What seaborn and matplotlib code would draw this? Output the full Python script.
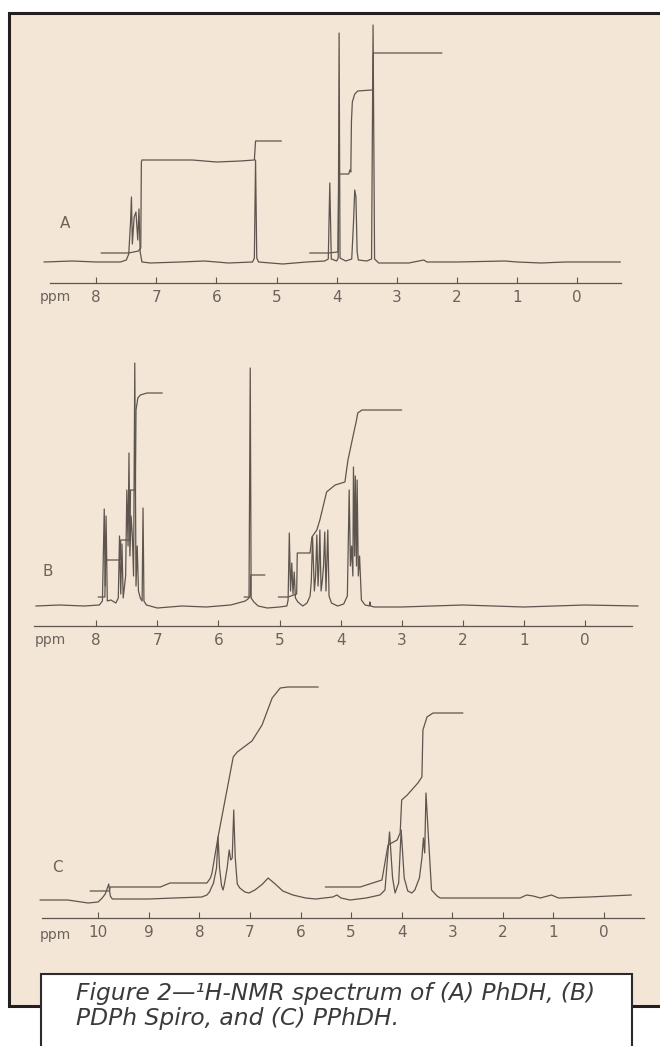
import pandas as pd
import seaborn as sns
import matplotlib.pyplot as plt
from matplotlib.patches import Rectangle

W, H = 660, 1046
BEIGE = "#f3e6d7"
INK = "#5e554e"
LABEL = "#6b635b"

# --- spectrum A (PhDH): trace vertices, ppm / relative intensity ---
a_ppm = [8.87, 8.40, 8.00, 7.60, 7.50, 7.46, 7.43, 7.415, 7.40, 7.37, 7.34, 7.31, 7.29, 7.27, 7.24,
         7.10, 6.60, 6.20, 5.80, 5.40, 5.37, 5.35, 5.33, 5.30, 4.90, 4.50, 4.20, 4.14, 4.115, 4.09,
         4.00, 3.975, 3.96, 3.945, 3.85, 3.75, 3.72, 3.70, 3.68, 3.66, 3.64, 3.50, 3.42, 3.395, 3.37,
         3.30, 2.80, 2.55, 2.50, 2.00, 1.20, 1.00, 0.60, 0.20, -0.72]
a_int = [0, 1, 0, 0, 2, 8, 40, 65, 18, 45, 50, 22, 53, 10, 0,
         -1, 0, 1, -1, 0, 4, 102, 4, 0, -2, 0, 1, 3, 79, 3,
         1, 4, 229, 4, 1, 3, 40, 72, 65, 10, 2, 1, 3, 237, 3,
         -1, -1, 2, 0, 0, 1, 0, -1, 0, 0]
a_integ1_ppm = [7.92, 7.46, 7.30, 7.26, 7.25, 7.24, 6.40, 6.00, 5.60, 5.37, 5.35, 4.92]
a_integ1_val = [9, 9, 11, 14, 100, 102, 102, 100, 101, 102, 121, 121]
a_integ2_ppm = [4.45, 4.14, 3.98, 3.965, 3.80, 3.78, 3.765, 3.755, 3.74, 3.70, 3.65, 3.42, 3.40, 3.39, 2.25]
a_integ2_val = [9, 9, 10, 88, 88, 92, 90, 140, 160, 168, 171, 172, 172, 209, 209]

# --- spectrum B (PDPh Spiro) ---
b_ppm = [8.99, 8.60, 8.20, 7.95, 7.90, 7.87, 7.855, 7.84, 7.82, 7.76, 7.68, 7.64, 7.62, 7.60, 7.58,
         7.56, 7.52, 7.50, 7.48, 7.465, 7.45, 7.43, 7.41, 7.39, 7.37, 7.35, 7.33, 7.31, 7.28, 7.25,
         7.235, 7.22, 7.18, 7.00, 6.60, 6.20, 5.80, 5.56, 5.50, 5.48, 5.465, 5.42, 5.35, 5.20, 5.00,
         4.88, 4.86, 4.84, 4.82, 4.80, 4.78, 4.76, 4.74, 4.70, 4.62, 4.55, 4.50, 4.48, 4.46, 4.43,
         4.41, 4.39, 4.37, 4.355, 4.34, 4.32, 4.30, 4.28, 4.26, 4.24, 4.21, 4.19, 4.15, 4.05, 3.95,
         3.89, 3.86, 3.84, 3.82, 3.80, 3.79, 3.77, 3.76, 3.74, 3.73, 3.71, 3.69, 3.66, 3.60, 3.53,
         3.52, 3.51, 3.45, 3.00, 2.50, 2.00, 1.50, 1.00, 0.50, 0.00, -0.87]
b_int = [0, 1, 0, 1, 5, 97, 20, 90, 5, 6, 3, 8, 70, 12, 62,
         8, 30, 116, 60, 153, 50, 90, 70, 30, 243, 20, 60, 15, 8, 5,
         98, 5, 1, -2, 0, -1, 1, 5, 8, 238, 8, 4, 0, -2, -1,
         0, 6, 73, 15, 43, 12, 34, 8, 4, 0, 3, 10, 25, 69, 15,
         30, 71, 20, 40, 76, 15, 25, 40, 74, 15, 76, 10, 3, 0, 2,
         10, 116, 40, 60, 30, 139, 50, 130, 40, 126, 30, 50, 6, 1, 0,
         4, 0, -1, -1, 0, 1, 0, -1, 0, 1, 0]
b_integ1_ppm = [7.97, 7.86, 7.85, 7.61, 7.60, 7.45, 7.44, 7.36, 7.35, 7.32, 7.28, 7.17, 6.92]
b_integ1_val = [9, 9, 46, 46, 66, 66, 116, 116, 196, 208, 211, 213, 213]
b_integ2_ppm = [5.58, 5.48, 5.47, 5.24]
b_integ2_val = [9, 9, 31, 31]
b_integ3_ppm = [5.02, 4.86, 4.72, 4.71, 4.50, 4.47, 4.39, 4.34, 4.23, 4.09, 3.93, 3.88, 3.80, 3.74,
                3.72, 3.65, 3.00]
b_integ3_val = [9, 9, 12, 53, 53, 69, 76, 86, 114, 121, 124, 146, 169, 186, 193, 196, 196]

# --- spectrum C (PPhDH) ---
c_ppm = [11.15, 10.60, 10.20, 10.00, 9.92, 9.86, 9.79, 9.76, 9.72, 9.00, 8.50, 7.95, 7.85, 7.80, 7.72,
         7.66, 7.63, 7.60, 7.56, 7.53, 7.50, 7.45, 7.41, 7.38, 7.35, 7.32, 7.29, 7.25, 7.20, 7.10,
         7.02, 6.90, 6.75, 6.64, 6.50, 6.35, 6.15, 5.90, 5.70, 5.36, 5.28, 5.20, 5.02, 4.70, 4.43,
         4.33, 4.24, 4.18, 4.13, 4.06, 4.01, 3.95, 3.88, 3.80, 3.74, 3.65, 3.60, 3.57, 3.545, 3.52,
         3.47, 3.41, 3.30, 3.24, 2.50, 1.66, 1.53, 1.40, 1.26, 1.04, 0.90, 0.30, -0.54]
c_int = [-2, -2, -5, -4, 0, 4, 14, 2, -1, -1, 0, 1, 3, 6, 15,
         30, 61, 30, 12, 8, 15, 30, 48, 38, 40, 88, 40, 14, 10, 6,
         5, 8, 14, 20, 14, 7, 3, 0, -1, 1, 3, 0, -2, 0, 3,
         8, 66, 20, 5, 15, 68, 20, 7, 5, 8, 20, 40, 60, 45, 105,
         60, 8, 2, 0, 0, 0, 3, 2, 0, 3, 0, 1, 3]
c_integ1_ppm = [10.16, 9.78, 9.76, 8.77, 8.58, 7.85, 7.78, 7.75, 7.63, 7.33, 7.25, 6.96, 6.76, 6.56,
                6.40, 6.25, 5.65]
c_integ1_val = [7, 7, 11, 11, 15, 15, 20, 25, 61, 141, 146, 157, 173, 200, 210, 211, 211]
c_integ2_ppm = [5.51, 4.82, 4.39, 4.27, 4.09, 4.03, 4.00, 3.89, 3.68, 3.60, 3.58, 3.50, 3.38, 2.79]
c_integ2_val = [11, 11, 18, 53, 58, 65, 98, 103, 115, 121, 168, 181, 185, 185]

ab_ticks = [8, 7, 6, 5, 4, 3, 2, 1, 0]
c_ticks = [10, 9, 8, 7, 6, 5, 4, 3, 2, 1, 0]


def to_frame(parts):
    rows = []
    for name, xs, ys in parts:
        rows.append(pd.DataFrame({"ppm": xs, "value": ys, "trace": name}))
    return pd.concat(rows, ignore_index=True)


sns.set_theme(style="white")
fig = plt.figure(figsize=(W / 100, H / 100), dpi=100)
fig.patch.set_facecolor("white")

# beige frame, its right side runs off the page
fig.add_artist(Rectangle((8.5 / W, 1 - 1006 / H), 700 / W, (1006 - 12.5) / H,
                         transform=fig.transFigure, facecolor=BEIGE,
                         edgecolor="#231f20", linewidth=2.2, zorder=-1))


def panel(parts, px0, px1, y_axis, y_top, xlim, ylim, ticks, letter, letter_xy, ppm_xy):
    ax = fig.add_axes([px0 / W, 1 - y_axis / H, (px1 - px0) / W, (y_axis - y_top) / H])
    ax.patch.set_alpha(0)
    df = to_frame(parts)
    sns.lineplot(data=df, x="ppm", y="value", units="trace", estimator=None, sort=False,
                 color=INK, linewidth=0.9, ax=ax)
    for ln in ax.lines:
        ln.set_clip_on(False)
    ax.set_xlim(*xlim)
    ax.set_ylim(*ylim)
    ax.set_xlabel("")
    ax.set_ylabel("")
    ax.set_yticks([])
    for s in ["top", "left", "right"]:
        ax.spines[s].set_visible(False)
    ax.spines["bottom"].set_color(INK)
    ax.spines["bottom"].set_linewidth(0.9)
    ax.set_xticks(ticks)
    ax.set_xticklabels([str(t) for t in ticks])
    ax.tick_params(axis="x", direction="in", length=4, width=0.8, color=INK,
                   labelcolor=LABEL, labelsize=11, pad=5, bottom=True)
    fig.text(letter_xy[0] / W, 1 - letter_xy[1] / H, letter, fontsize=11, color=LABEL,
             ha="center", va="center")
    fig.text(ppm_xy[0] / W, 1 - ppm_xy[1] / H, "ppm", fontsize=10, color=LABEL,
             ha="center", va="center")
    return ax


panel([("spec", a_ppm, a_int), ("i1", a_integ1_ppm, a_integ1_val),
       ("i2", a_integ2_ppm, a_integ2_val)],
      50, 621, 283, 13, (8.77, -0.73), (-21, 249), ab_ticks, "A", (65, 223), (55, 297))

panel([("spec", b_ppm, b_int), ("i1", b_integ1_ppm, b_integ1_val),
       ("i2", b_integ2_ppm, b_integ2_val), ("i3", b_integ3_ppm, b_integ3_val)],
      34, 632, 626, 330, (9.02, -0.77), (-20, 276), ab_ticks, "B", (48, 572), (50, 640))

panel([("spec", c_ppm, c_int), ("i1", c_integ1_ppm, c_integ1_val),
       ("i2", c_integ2_ppm, c_integ2_val)],
      42, 644, 918, 650, (11.11, -0.79), (-20, 248), c_ticks, "C", (57, 868), (55, 935))

# caption box
fig.add_artist(Rectangle((41 / W, 1 - 1070 / H), (631.5 - 41) / W, (1070 - 974) / H,
                         transform=fig.transFigure, facecolor="white",
                         edgecolor="#2b2b2b", linewidth=1.5, zorder=5))
cap_kw = dict(fontsize=16.8, style="italic", weight="normal", color="#3a3a3a",
              family=["DejaVu Sans"], va="baseline", ha="left", zorder=6)
fig.text(76 / W, 1 - 1000 / H, "Figure 2\u2014\u00b9H-NMR spectrum of (A) PhDH, (B)", **cap_kw)
fig.text(76 / W, 1 - 1025 / H, "PDPh Spiro, and (C) PPhDH.", **cap_kw)

fig.savefig("out.png", dpi=100)
